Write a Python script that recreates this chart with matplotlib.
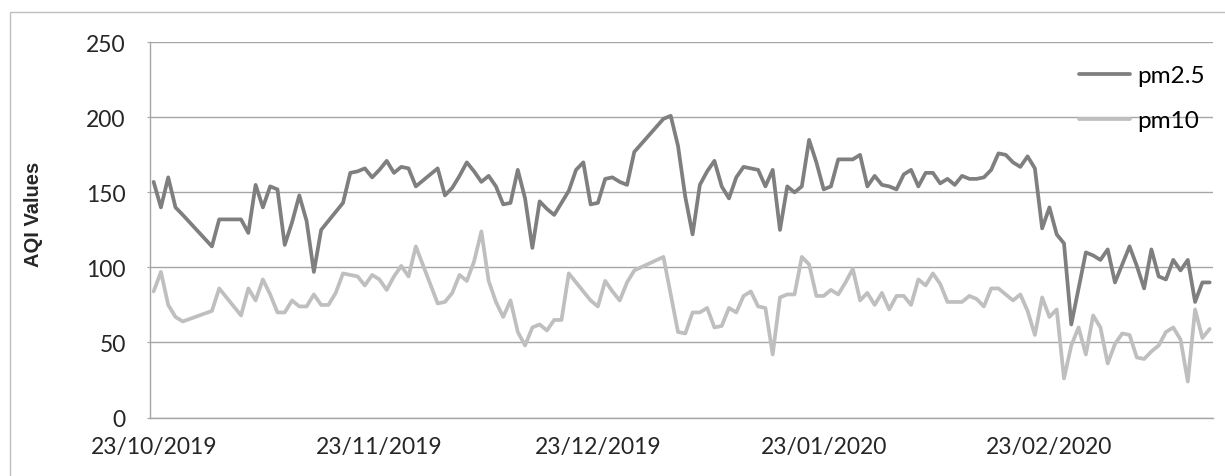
import matplotlib
matplotlib.use("Agg")
import matplotlib.pyplot as plt
import matplotlib.dates as mdates
import pandas as pd
from matplotlib.patches import Rectangle

# Dates: daily from start to end, with a few days without readings
start_date = "2019-10-23"
end_date = "2020-03-16"
missing_dates = ["2019-10-28", "2019-10-29", "2019-10-30",
                 "2019-11-29", "2019-11-30",
                 "2019-12-29", "2019-12-30", "2019-12-31"]

pm25 = [157, 140, 160, 140, 135,
        114, 132, 132, 132, 132, 123, 155, 140, 154, 152, 115, 130, 148, 131,
        97, 125, 131, 137, 143, 163, 164, 166, 160, 165, 171, 163, 167, 166, 154,
        166, 148, 153, 161, 170, 164, 157, 161, 154, 142, 143, 165, 146, 113,
        144, 139, 135, 143, 151, 165, 170, 142, 143, 159, 160, 157, 155, 177,
        199, 201, 181, 147, 122, 155, 164, 171, 154, 146, 160, 167, 166, 165,
        154, 165, 125, 154, 150, 154, 185, 170, 152, 154, 172, 172, 172, 175,
        154, 161, 155, 154, 152, 162, 165, 154, 163, 163, 156, 159, 155, 161,
        159, 159, 160, 165, 176, 175, 170, 167, 174, 166, 126, 140, 122, 116,
        62, 86, 110, 108, 105, 112, 90, 102, 114, 101, 86, 112, 94, 92, 105,
        98, 105, 77, 90, 90]

pm10 = [84, 97, 75, 67, 64,
        71, 86, 80, 74, 68, 86, 78, 92, 82, 70, 70, 78, 74, 74, 82, 75, 75, 83,
        96, 95, 94, 88, 95, 92, 85, 94, 101, 94, 114,
        76, 77, 83, 95, 91, 104, 124, 91, 77, 67, 78, 57, 48, 60, 62, 58, 65,
        65, 96, 90, 84, 78, 74, 91, 84, 78, 90, 98,
        107, 82, 57, 56, 70, 70, 73, 60, 61, 73, 70, 81, 84, 74, 73, 42, 80,
        82, 82, 107, 102, 81, 81, 85, 82, 90, 99, 78, 83, 75, 83, 72, 81, 81,
        75, 92, 88, 96, 89, 77, 77, 77, 81, 79, 74, 86, 86, 82, 78, 82, 71, 55,
        80, 67, 72, 26, 48, 60, 42, 68, 60, 36, 49, 56, 55, 40, 39, 44, 48, 57,
        60, 52, 24, 72, 53, 59]

tick_dates = ["2019-10-23", "2019-11-23", "2019-12-23", "2020-01-23", "2020-02-23"]
y_ticks = [0, 50, 100, 150, 200, 250]

dates = pd.date_range(start_date, end_date).drop(pd.to_datetime(missing_dates))

plt.rcParams["font.family"] = ["Lato", "DejaVu Sans"]
fig = plt.figure(figsize=(12.25, 4.77), dpi=100)
ax = fig.add_axes([150 / 1225, 1 - 418.5 / 477, 1063.3 / 1225, 375.2 / 477])

grid_col = "#A6A6A6"
ax.plot(dates, pm25, color="#7F7F7F", lw=2.7, label="pm2.5",
        solid_joinstyle="round", solid_capstyle="round")
ax.plot(dates, pm10, color="#BFBFBF", lw=2.7, label="pm10",
        solid_joinstyle="round", solid_capstyle="round")

half = pd.Timedelta(hours=12)
ax.set_xlim(dates[0] - half, dates[-1] + half)
ax.set_ylim(0, 250)
ax.set_yticks(y_ticks)
ax.set_xticks(pd.to_datetime(tick_dates))
ax.xaxis.set_major_formatter(mdates.DateFormatter("%d/%m/%Y"))

ax.grid(axis="y", color=grid_col, lw=1)
ax.set_axisbelow(True)
for s in ["top", "right"]:
    ax.spines[s].set_visible(False)
for s in ["left", "bottom"]:
    ax.spines[s].set_color(grid_col)
    ax.spines[s].set_linewidth(1)

ax.tick_params(axis="y", length=2.5, color=grid_col, pad=15, labelsize=16.5, labelcolor="#262626")
ax.tick_params(axis="x", length=0, pad=13, labelsize=16.5, labelcolor="#262626")

ax.set_ylabel("AQI Values", fontsize=14.5, fontweight="bold", color="#262626",
              family=["Liberation Sans", "DejaVu Sans"])
ax.yaxis.set_label_coords(-0.1006, 0.545)

ax.legend(loc="upper left", bbox_to_anchor=(1079 / 1225, 1 - 66 / 477),
          bbox_transform=fig.transFigure, frameon=False, fontsize=17.5,
          handlelength=2.1, handletextpad=0.3, labelspacing=1.0,
          borderpad=0, borderaxespad=0)

fig.add_artist(Rectangle((10 / 1225, -0.1), 2, 1 - 13 / 477 + 0.1,
                         transform=fig.transFigure, fill=False,
                         ec="#BFBFBF", lw=1))

fig.savefig("out.png", dpi=100)
